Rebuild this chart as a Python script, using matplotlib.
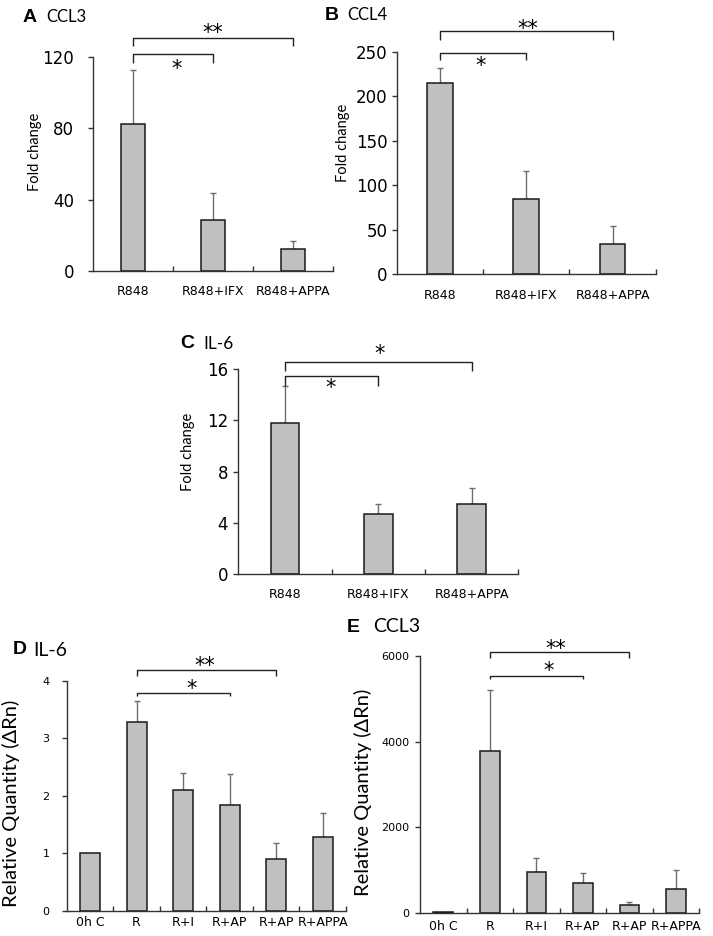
import numpy as np
import matplotlib
matplotlib.use("Agg")
import matplotlib.pyplot as plt

# ---- data ----
# A: CCL3, fold change
a_labels = ["R848", "R848+IFX", "R848+APPA"]
a_values = [82.4, 28.6, 12.5]
a_err = [30.5, 15.3, 4.5]          # upper error only
a_sig = [(0, 1, "*"), (0, 2, "**")]

# B: CCL4, fold change
b_labels = ["R848", "R848+IFX", "R848+APPA"]
b_values = [214.5, 84.7, 33.7]
b_err = [16.9, 31.2, 20.3]
b_sig = [(0, 1, "*"), (0, 2, "**")]

# C: IL-6, fold change
c_labels = ["R848", "R848+IFX", "R848+APPA"]
c_values = [11.77, 4.70, 5.45]
c_err = [2.91, 0.75, 1.25]
c_sig = [(0, 1, "*"), (0, 2, "*")]

# D: IL-6, relative quantity
d_labels = ["0h C", "R", "R+I", "R+AP", "R+AP", "R+APPA"]
d_values = [1.0, 3.28, 2.10, 1.83, 0.90, 1.29]
d_err = [0.0, 0.36, 0.30, 0.55, 0.28, 0.41]
d_sig = [(1, 3, "*"), (1, 4, "**")]

# E: CCL3, relative quantity
e_labels = ["0h C", "R", "R+I", "R+AP", "R+AP", "R+APPA"]
e_values = [20, 3780, 958, 701, 179, 553]
e_err = [0, 1426, 328, 234, 78, 445]
e_sig = [(1, 3, "*"), (1, 4, "**")]

W, H = 713, 936
fig = plt.figure(figsize=(W / 100, H / 100), dpi=100)

BAR = "#c0c0c0"
EDGE = "#1a1a1a"
AXC = "#333333"
LABEL_FONT = ["Lato", "DejaVu Sans"]


def add_axes_px(left, right, top, zero):
    # axes box given in pixel coordinates of the picture
    return fig.add_axes([left / W, 1 - zero / H, (right - left) / W, (zero - top) / H])


def draw_panel(ax, labels, values, err, sig, ymax, yticks, width,
               brackets, stars, xfs, yfs, xpad, ypad):
    x = np.arange(len(labels))
    values = np.asarray(values, dtype=float)
    err = np.asarray(err, dtype=float)
    ax.bar(x, values, width, color=BAR, edgecolor=EDGE, linewidth=1.1, zorder=2)
    m = err > 0
    ax.errorbar(x[m], values[m], yerr=[np.zeros(m.sum()), err[m]], fmt="none",
                ecolor="#6e6e6e", elinewidth=1.0, capsize=2.2, capthick=1.0, zorder=1)
    ax.set_xlim(-0.5, len(labels) - 0.5)
    ax.set_ylim(0, ymax)
    ax.set_yticks(yticks)
    ax.set_xticks(x)
    ax.set_xticklabels(labels, fontsize=xfs, family="DejaVu Sans")
    ax.set_xticks(np.arange(len(labels)) + 0.5, minor=True)
    ax.tick_params(axis="x", which="major", length=0, pad=xpad)
    ax.tick_params(axis="x", which="minor", direction="in", length=3.5,
                   color=AXC, width=1)
    ax.tick_params(axis="y", direction="out", length=3.5, color=AXC, width=1,
                   labelsize=yfs, pad=ypad)
    for lab in ax.get_yticklabels():
        lab.set_family("DejaVu Sans")
    for s in ["top", "right"]:
        ax.spines[s].set_visible(False)
    for s in ["left", "bottom"]:
        ax.spines[s].set_color(AXC)
        ax.spines[s].set_linewidth(1.0)
    for (i, j, txt), (h, drop), (sx, sy) in zip(sig, brackets, stars):
        ax.plot([i, i, j, j], [drop, h, h, drop], color="#222222", lw=1.0,
                clip_on=False, solid_capstyle="butt")
        ax.text(sx, sy, txt, ha="center", va="center", fontsize=15,
                family="DejaVu Sans", clip_on=False)


# A
axA = add_axes_px(93, 333, 57, 271)
draw_panel(axA, a_labels, a_values, a_err, a_sig, 120, [0, 40, 80, 120], 0.31,
           [(121.5, 116.7), (130.8, 126.2)], [(0.54, 113.0), (1.0, 133.5)], 9, 12,
           10, 10)
# B
axB = add_axes_px(396.7, 655.7, 51.7, 274)
draw_panel(axB, b_labels, b_values, b_err, b_sig, 250, [0, 50, 100, 150, 200, 250], 0.30,
           [(249, 240.7), (273.3, 263.2)], [(0.475, 234), (1.02, 276)], 9, 12,
           11, 3)
# C
axC = add_axes_px(238.3, 518.3, 369, 574.3)
draw_panel(axC, c_labels, c_values, c_err, c_sig, 16, [0, 4, 8, 12, 16], 0.31,
           [(15.45, 14.68), (16.57, 15.87)], [(0.49, 14.5), (1.01, 17.15)], 9, 12,
           10, 4)
# D
axD = add_axes_px(66.7, 346, 680.7, 910.7)
draw_panel(axD, d_labels, d_values, d_err, d_sig, 4, [0, 1, 2, 3, 4], 0.43,
           [(3.79, 3.73), (4.19, 4.08)], [(2.19, 3.86), (2.47, 4.26)], 9, 8,
           4, 9)
# E
axE = add_axes_px(420, 699.3, 656, 912.7)
draw_panel(axE, e_labels, e_values, e_err, e_sig, 6000, [0, 2000, 4000, 6000], 0.42,
           [(5533, 5456), (6101, 5947)], [(2.26, 5640), (2.42, 6160)], 9, 8,
           5, 4)

# panel letters and titles
titles = [
    ("A", "CCL3", 23, 46, 17, 12),
    ("B", "CCL4", 325, 347, 15, 12),
    ("C", "IL-6", 180, 203, 344, 12.5),
    ("D", "IL-6", 13, 33, 650, 14),
    ("E", "CCL3", 347, 373, 627, 14),
]
for letter, name, lx, nx, ty, fs in titles:
    fig.text(lx / W, 1 - ty / H, letter, fontsize=14, fontweight="bold",
             family="Liberation Sans", ha="left", va="center")
    fig.text(nx / W, 1 - ty / H, name, fontsize=fs, family=LABEL_FONT,
             ha="left", va="center")

# y axis labels
ylabels = [
    ("Fold change", 35, 152, 10.5),
    ("Fold change", 343, 143, 10.5),
    ("Fold change", 188, 452, 10.5),
    ("Relative Quantity (ΔRn)", 11, 803, 14.5),
    ("Relative Quantity (ΔRn)", 363, 792, 14.5),
]
for txt, x, y, fs in ylabels:
    fig.text(x / W, 1 - y / H, txt, rotation=90, fontsize=fs, family=LABEL_FONT,
             ha="center", va="center")

fig.savefig("out.png", dpi=100)
